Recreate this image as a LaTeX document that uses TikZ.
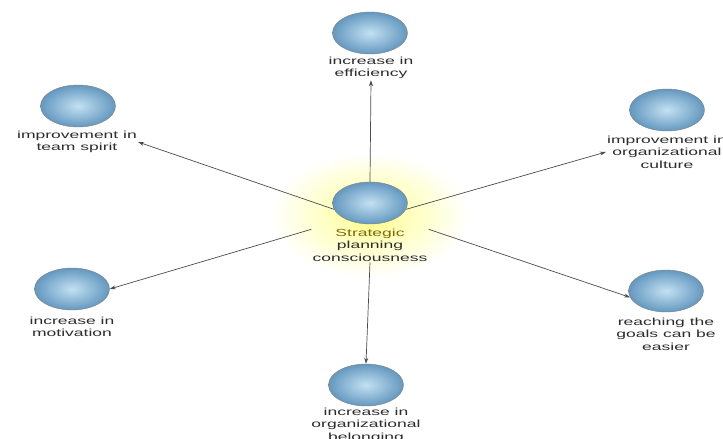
\documentclass[tikz,border=0pt]{standalone}
\usepackage{fontspec}
\newfontfamily\lblfont[FakeStretch=1.7]{Liberation Sans}
\usetikzlibrary{shapes.geometric,arrows.meta}
\definecolor{ballin}{RGB}{195,225,242}
\definecolor{ballout}{RGB}{100,152,192}
\definecolor{txtgray}{RGB}{45,45,45}
\definecolor{goldtxt}{RGB}{125,105,10}
\pgfdeclareradialshading{glow}{\pgfpoint{0bp}{0bp}}{color(0bp)=(yellow!55);
  color(2bp)=(yellow!30); color(6.5bp)=(white); color(50bp)=(white)}
\tikzset{
  ball/.style={ellipse, draw=black!50, thin, inner color=ballin, outer color=ballout,
    minimum width=75pt, minimum height=42pt, inner sep=0pt},
  lbl/.style={align=center, text=txtgray, inner sep=1pt,
    font=\lblfont\fontsize{10.3}{12.5}\selectfont},
  link/.style={draw=black!70, line width=0.7pt, -{Stealth[length=6pt,width=4pt]}}
}
\begin{document}
\begin{tikzpicture}[x=1pt,y=-1pt]
                \useasboundingbox (0,0) rectangle (723,439);
                % glow behind the centre
                \shade[shading=glow] (-10,-25) rectangle (750,455);

                \node[ball] (ctr) at (370,203) {};
                \node[lbl] (ctrT) at (370,245) {\textcolor{goldtxt}{Strategic}\\planning\\consciousness};

                \node[ball] (eff) at (370,33) {};
                \node[lbl] (effT) at (371,68) {increase in\\efficiency};

                \node[ball] (team) at (78,106) {};
                \node[lbl] (teamT) at (77,142) {improvement in\\team spirit};

                \node[ball] (cult) at (667,110) {};
                \node[lbl] (cultT) at (667,152) {improvement in\\organizational\\culture};

                \node[ball] (motiv) at (72,289) {};
                \node[lbl] (motivT) at (72,327) {increase in\\motivation};

                \node[ball] (goals) at (666,291) {};
                \node[lbl] (goalsT) at (666,334) {reaching the\\goals can be\\easier};

                \node[ball] (belong) at (366,385) {};
                \node[lbl] (belongT) at (366,425) {increase in\\organizational\\belonging};

                \draw[link] (ctr.north) -- (effT.south);
                \draw[link] (ctr.190) -- (teamT.east);
                \draw[link] (ctr.-10) -- (cultT.west);
                \draw[link] (ctrT.165) -- (motiv.east);
                \draw[link] (ctrT.15) -- (goals.190);
                \draw[link] (ctrT.south) -- (belong.north);
\end{tikzpicture}
\end{document}
